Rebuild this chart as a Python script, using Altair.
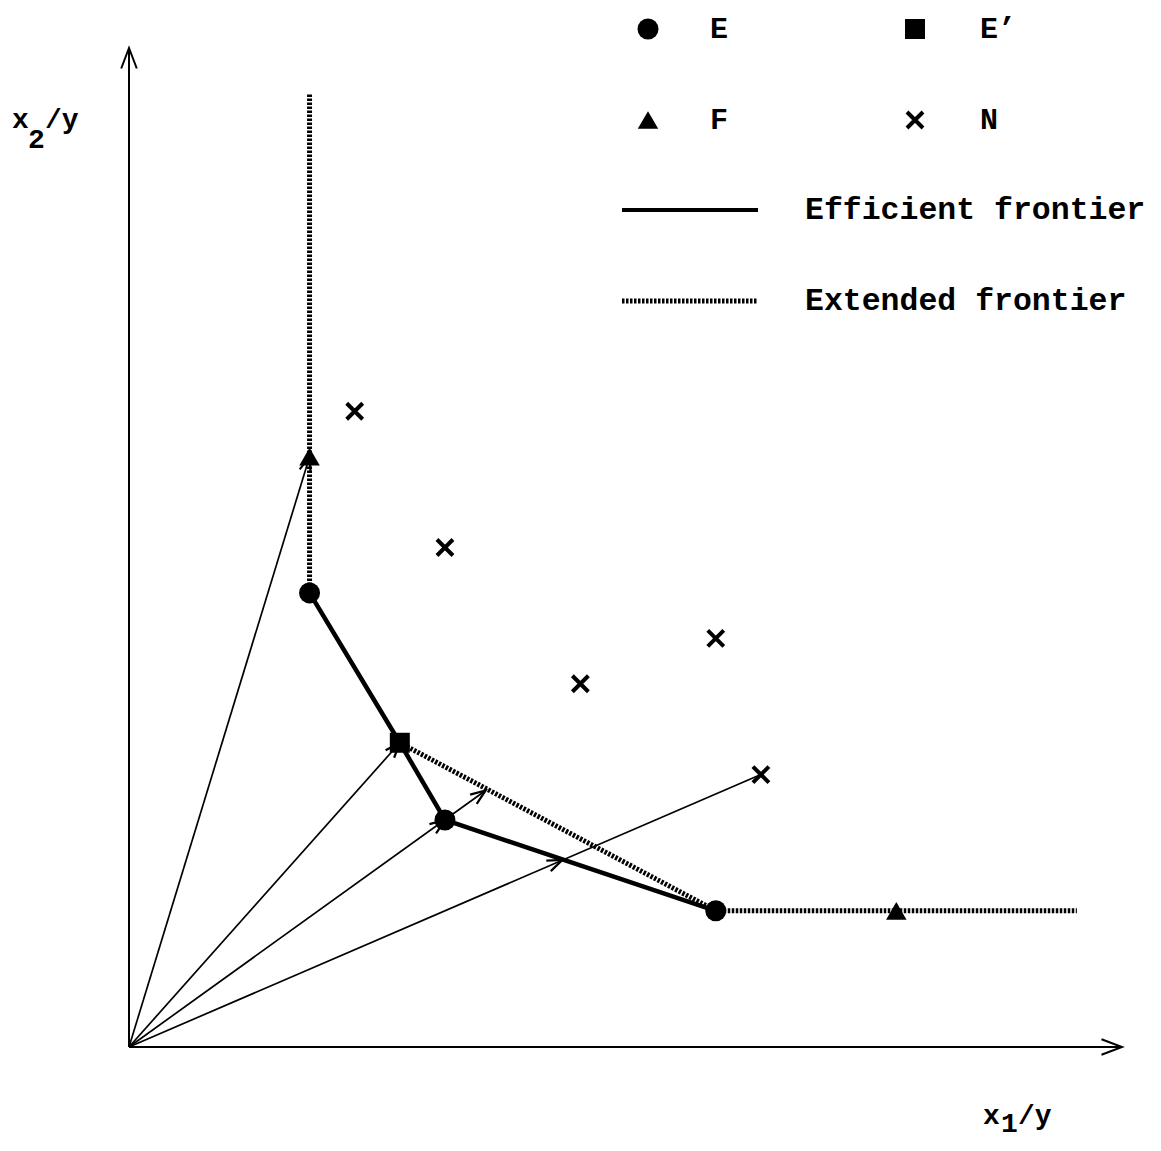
import math
import altair as alt
import pandas as pd

# ---------------- data ----------------
E_x = [4, 7, 13]
E_y = [10, 5, 3]
EP_x = [6]
EP_y = [6.7]
F_x = [4, 17]
F_y = [13, 3]
N_x = [5, 7, 10, 13, 14]
N_y = [14, 11, 8, 9, 6]

EFF_x = [4, 6, 7, 13]          # efficient frontier (solid)
EFF_y = [10, 6.7, 5, 3]

EXT_x = [4, 6, 13]             # extended frontier segments (dotted)
EXT_y = [10, 6.7, 3]
EXT_x2 = [4, 13, 21]
EXT_y2 = [21, 3, 3]

RAY_x = [4, 6, 7.9, 14]        # rays from the origin
RAY_y = [13, 6.7, 5.65, 6]
HEAD_x = [4, 6, 7, 7.9, 9.6]   # arrow heads on the rays
HEAD_y = [13, 6.7, 5, 5.65, 4.12]

AXIS_MAX = 22

# ---------------- layout ----------------
W, H = 993, 999
kx, ky = W / AXIS_MAX, H / AXIS_MAX
FONT = "Liberation Mono"

xs = alt.Scale(domain=[0, AXIS_MAX], nice=False, zero=False)
ys = alt.Scale(domain=[0, AXIS_MAX], nice=False, zero=False)
X = lambda f: alt.X(f, type="quantitative", scale=xs, axis=None)
Y = lambda f: alt.Y(f, type="quantitative", scale=ys, axis=None)


def ang(x, y):
    return (math.degrees(math.atan2(x * kx, y * ky)) + 360) % 360


ARROW = "M-0.38,1L0,0L0.38,1"
XMARK = "M-1,-1L1,1M-1,1L1,-1"

one = pd.DataFrame({"a": [0]})

# axes
axes_df = pd.DataFrame({"x": [0, 0], "y": [0, 0], "x2": [AXIS_MAX, 0], "y2": [0, AXIS_MAX]})
axes = alt.Chart(axes_df).mark_rule(color="black", strokeWidth=2).encode(
    x=X("x"), y=Y("y"), x2="x2", y2="y2")
axhead_df = pd.DataFrame({"x": [AXIS_MAX, 0], "y": [0, AXIS_MAX]})
axhead_df["ang"] = [ang(a, b) for a, b in zip(axhead_df.x, axhead_df.y)]
axheads = alt.Chart(axhead_df).mark_point(
    shape=ARROW, size=1681, filled=False, stroke="black", strokeWidth=2, opacity=1
).encode(x=X("x"), y=Y("y"), angle=alt.Angle("ang:Q", scale=None))

# rays
ray_df = pd.DataFrame({"x": [0] * len(RAY_x), "y": [0] * len(RAY_x), "x2": RAY_x, "y2": RAY_y})
rays = alt.Chart(ray_df).mark_rule(color="black", strokeWidth=1.7).encode(
    x=X("x"), y=Y("y"), x2="x2", y2="y2")
head_df = pd.DataFrame({"x": HEAD_x, "y": HEAD_y})
head_df["ang"] = [ang(a, b) for a, b in zip(HEAD_x, HEAD_y)]
heads = alt.Chart(head_df).mark_point(
    shape=ARROW, size=900, filled=False, stroke="black", strokeWidth=2.2, opacity=1
).encode(x=X("x"), y=Y("y"), angle=alt.Angle("ang:Q", scale=None))

# frontiers
ext_df = pd.DataFrame({"x": EXT_x, "y": EXT_y, "x2": EXT_x2, "y2": EXT_y2})
ext = alt.Chart(ext_df).mark_rule(color="black", strokeWidth=5, strokeDash=[2.5, 1.5]).encode(
    x=X("x"), y=Y("y"), x2="x2", y2="y2")
eff_df = pd.DataFrame({"x": EFF_x, "y": EFF_y, "o": list(range(len(EFF_x)))})
eff = alt.Chart(eff_df).mark_line(color="black", strokeWidth=4.5).encode(
    x=X("x"), y=Y("y"), order="o:Q")

# markers
e_pts = alt.Chart(pd.DataFrame({"x": E_x, "y": E_y})).mark_point(
    shape="circle", filled=True, color="black", size=441, opacity=1).encode(x=X("x"), y=Y("y"))
ep_pts = alt.Chart(pd.DataFrame({"x": EP_x, "y": EP_y})).mark_point(
    shape="square", filled=True, color="black", size=400, opacity=1).encode(x=X("x"), y=Y("y"))
f_pts = alt.Chart(pd.DataFrame({"x": F_x, "y": F_y})).mark_point(
    shape="triangle-up", filled=True, color="black", size=420, opacity=1).encode(x=X("x"), y=Y("y"))
n_pts = alt.Chart(pd.DataFrame({"x": N_x, "y": N_y})).mark_point(
    shape=XMARK, filled=False, stroke="black", strokeWidth=4, size=256, opacity=1).encode(x=X("x"), y=Y("y"))

# legend (pixel positions relative to plot area)
def sym(shape, px, py, size, filled=True, sw=1):
    kw = dict(shape=shape, size=size, opacity=1)
    if filled:
        kw.update(filled=True, color="black")
    else:
        kw.update(filled=False, stroke="black", strokeWidth=sw)
    return alt.Chart(one).mark_point(**kw).encode(x=alt.value(px), y=alt.value(py))


def txt(s, px, py, size=30, baseline="middle"):
    return alt.Chart(one).mark_text(
        text=s, font=FONT, fontSize=size, fontWeight="bold", align="left",
        baseline=baseline, color="black").encode(x=alt.value(px), y=alt.value(py))


legend = [
    sym("circle", 519, -19, 441),
    txt("E", 581, -19),
    sym("square", 786, -19, 400),
    txt("E\u2019", 851, -19),
    sym("triangle-up", 519, 72, 420),
    txt("F", 581, 72),
    sym(XMARK, 786, 72, 256, filled=False, sw=4),
    txt("N", 851, 72),
    alt.Chart(one).mark_rule(color="black", strokeWidth=4).encode(
        x=alt.value(493), x2=alt.value(629), y=alt.value(162)),
    txt("Efficient frontier", 676, 162, size=31.5),
    alt.Chart(one).mark_rule(color="black", strokeWidth=5, strokeDash=[2.5, 1.5]).encode(
        x=alt.value(493), x2=alt.value(629), y=alt.value(253)),
    txt("Extended frontier", 676, 253, size=31.5),
]

titles = [
    txt("x", -117, 80, size=28, baseline="alphabetic"),
    txt("2", -101, 100, size=28, baseline="alphabetic"),
    txt("/y", -84, 80, size=28, baseline="alphabetic"),
    txt("x", 854, 1076, size=28, baseline="alphabetic"),
    txt("1", 872, 1084, size=28, baseline="alphabetic"),
    txt("/y", 889, 1076, size=28, baseline="alphabetic"),
]

chart = alt.layer(
    rays, axes, axheads, ext, eff, heads, e_pts, ep_pts, f_pts, n_pts, *legend, *titles
).properties(
    width=W, height=H,
    autosize=alt.AutoSizeParams(type="none"),
    padding={"left": 121, "top": 40, "right": 31, "bottom": 96},
    background="white",
).configure_view(stroke=None)

chart.save("out.html", embed_options={"renderer": "svg", "actions": False})
